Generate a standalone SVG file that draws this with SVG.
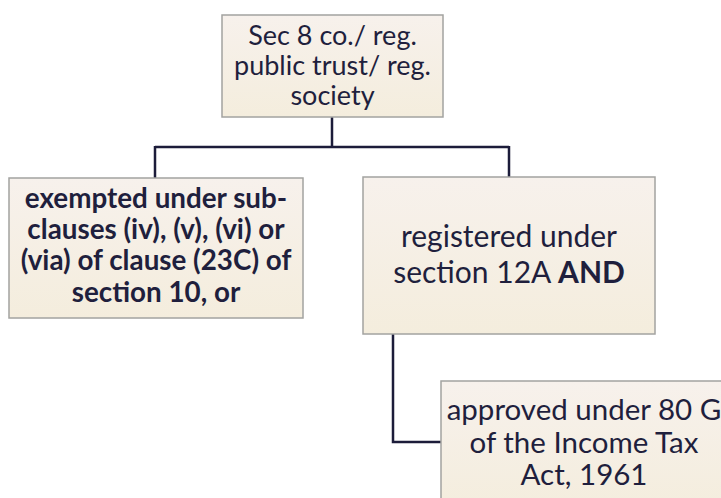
<svg xmlns="http://www.w3.org/2000/svg" width="721" height="498" viewBox="0 0 721 498">
<defs>
<linearGradient id="bg" x1="0" y1="0" x2="0" y2="1">
<stop offset="0" stop-color="#f7f1ec"/>
<stop offset="1" stop-color="#f4eddd"/>
</linearGradient>
<style>
.box{fill:url(#bg);stroke:#a3a3a0;stroke-width:1.5}
.t{font-family:"Lato","Open Sans",sans-serif;fill:#1f1f3d;text-anchor:middle}
.b{font-weight:bold}
.c{fill:none;stroke:#1c1c3a;stroke-width:2.5}
</style>
</defs>
<rect width="721" height="498" fill="#ffffff"/>
<g id="connectors">
<path class="c" d="M332 117 V147 M155 147 H509 M155 146 V178 M509 146 V177"/>
<path class="c" d="M393 334 V442 H441"/>
</g>
<g id="top">
<rect class="box" x="222" y="15" width="221" height="102"/>
<text class="t" font-size="27"><tspan x="332.5" y="45">Sec 8 co./ reg.</tspan><tspan x="332.5" y="75">public trust/ reg.</tspan><tspan x="332.5" y="105">society</tspan></text>
</g>
<g id="left">
<rect class="box" x="9" y="178" width="294" height="140"/>
<text class="t b" font-size="27.8"><tspan x="156" y="208">exempted under sub-</tspan><tspan x="156" y="239">clauses (iv), (v), (vi) or</tspan><tspan x="156" y="270">(via) of clause (23C) of</tspan><tspan x="156" y="302">section 10, or</tspan></text>
</g>
<g id="right">
<rect class="box" x="363" y="177" width="292" height="157"/>
<text class="t" font-size="30"><tspan x="509" y="247">registered under</tspan><tspan x="509" y="283">section 12A <tspan class="b">AND</tspan></tspan></text>
</g>
<g id="bottom">
<rect class="box" x="441" y="381" width="290" height="130"/>
<text class="t" font-size="29.5"><tspan x="584" y="420">approved under 80 G</tspan><tspan x="584" y="453">of the Income Tax</tspan><tspan x="584" y="485">Act, 1961</tspan></text>
</g>
</svg>
